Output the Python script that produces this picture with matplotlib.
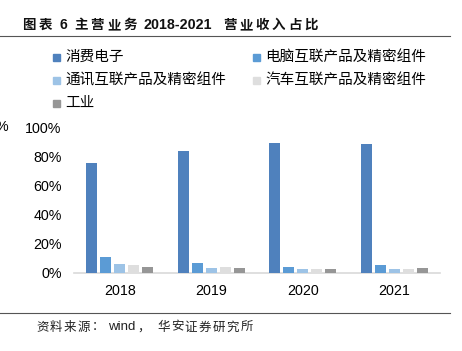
import matplotlib
matplotlib.use("Agg")
import matplotlib.pyplot as plt
from matplotlib.patches import Rectangle
from matplotlib.lines import Line2D
import numpy as np

plt.rcParams['font.family'] = ['Liberation Sans', 'Noto Sans CJK SC', 'DejaVu Sans']

years = ["2018", "2019", "2020", "2021"]
series_names = ["消费电子", "电脑互联产品及精密组件", "通讯互联产品及精密组件", "汽车互联产品及精密组件", "工业"]
consumer = [75.4, 83.9, 89.2, 88.8]
computer = [10.6, 6.7, 4.1, 5.3]
telecom = [6.0, 3.2, 2.6, 2.3]
auto = [5.1, 4.1, 2.3, 2.3]
industry = [3.9, 3.0, 2.5, 3.0]
yticks = [0, 20, 40, 60, 80, 100]
colors = ["#4F81BD", "#5B9BD5", "#9DC3E6", "#DEDEDE", "#969696"]

values = [consumer, computer, telecom, auto, industry]

W, H = 462, 351
fig = plt.figure(figsize=(W / 100, H / 100), dpi=100)

ax = fig.add_axes([74 / W, 1 - 272.7 / H, 366 / W, 145 / H])
x = np.arange(len(years))
pitch = 0.153
bw = 0.12
for i, (vals, c) in enumerate(zip(values, colors)):
    ax.bar(x + (i - 2) * pitch, vals, width=bw, color=c, zorder=3)
ax.set_xlim(-0.5, 3.5)
ax.set_ylim(0, 100)
ax.set_yticks(yticks)
ax.set_yticklabels([f"{v}%" for v in yticks], fontsize=10.3)
ax.set_xticks(x)
ax.set_xticklabels(years, fontsize=10.3)
for s in ["top", "right", "left"]:
    ax.spines[s].set_visible(False)
ax.spines["bottom"].set_color("#D9D9D9")
ax.spines["bottom"].set_linewidth(1.2)
ax.tick_params(axis="both", length=0)
ax.tick_params(axis="y", pad=9)
ax.tick_params(axis="x", pad=8)


def spaced(x0, y, text, step, **kw):
    for k, ch in enumerate(text):
        fig.text((x0 + k * step) / W, 1 - y / H, ch, va="center", ha="left", **kw)


cjk = ["Noto Sans CJK SC", "DejaVu Sans"]
# Title
spaced(22, 25, "图表", 16.3, fontsize=9.7, fontweight="bold", family=cjk, color="#111111")
fig.text(59 / W, 1 - 25 / H, "6", fontsize=10, fontweight="bold", va="center", ha="left", color="#111111")
spaced(74, 25, "主营业务", 16.5, fontsize=9.7, fontweight="bold", family=cjk, color="#111111")
fig.text(143 / W, 1 - 25 / H, "2018-2021", fontsize=10.3, fontweight="bold", va="center", ha="left",
         color="#111111")
spaced(223, 25, "营业收入占比", 16.2, fontsize=9.7, fontweight="bold", family=cjk, color="#111111")
fig.add_artist(Line2D([0, 450 / W], [1 - 36 / H, 1 - 36 / H], color="#555555", lw=0.8))
fig.add_artist(Line2D([0, 450 / W], [1 - 313 / H, 1 - 313 / H], color="#555555", lw=0.8))

# Source
spaced(36, 327, "资料来源：", 14, fontsize=9, family=cjk, color="#222222")
fig.text(108 / W, 1 - 327 / H, "wind", fontsize=9.5, va="center", ha="left", color="#222222")
fig.text(137 / W, 1 - 327 / H, "，", fontsize=9, family=cjk, va="center", ha="left", color="#222222")
spaced(157, 327, "华安证券研究所", 13.9, fontsize=9, family=cjk, color="#222222")

fig.text(-4 / W, 1 - 127 / H, "%", fontsize=10.3, va="center", ha="left")

# Legend
legend_pos = [(53, 57), (253, 57), (53, 80), (253, 80), (53, 103)]
for (lx, ly), name, c in zip(legend_pos, series_names, colors):
    fig.add_artist(Rectangle((lx / W, 1 - (ly + 3.5) / H), 7 / W, 7 / H, color=c,
                             transform=fig.transFigure))
    fig.text((lx + 12) / W, 1 - ly / H, name, fontsize=10.5,
             family=cjk, va="center", ha="left")

fig.savefig("out.png", dpi=100)
